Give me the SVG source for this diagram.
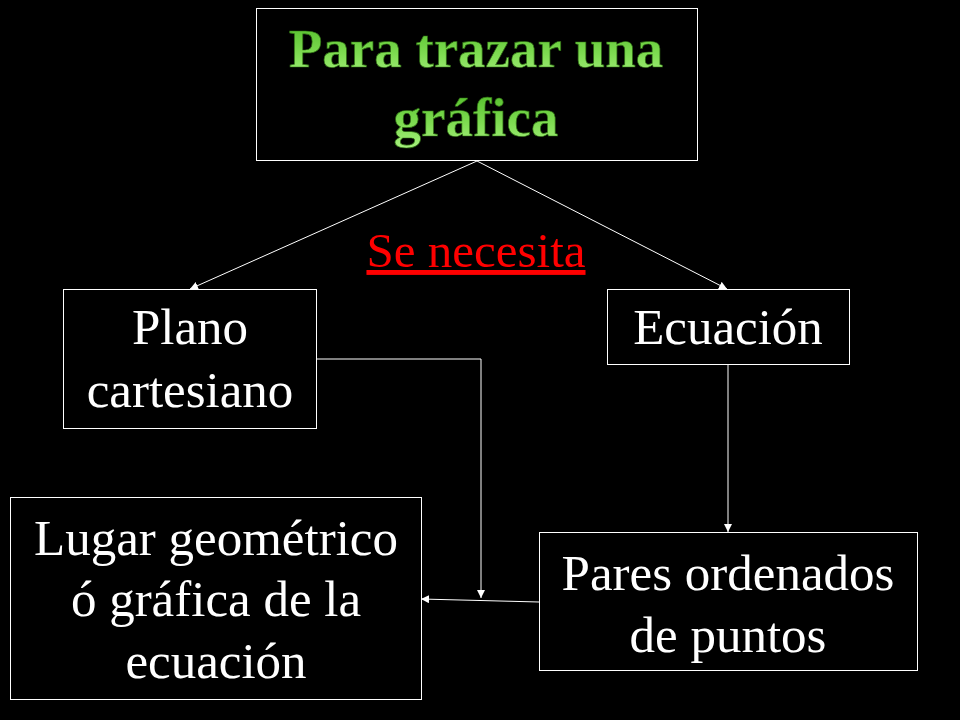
<svg xmlns="http://www.w3.org/2000/svg" width="960" height="720" viewBox="0 0 960 720">
<defs>
<style>
.box{fill:#000;stroke:#fff;stroke-width:1}
.t{font-family:"Liberation Serif","Times New Roman",serif;font-size:51px;fill:#fff;text-anchor:middle}
.title{font-family:"Liberation Serif","Times New Roman",serif;font-weight:bold;font-size:55px;fill:url(#g);stroke:#2f6e14;stroke-width:0.7;text-anchor:middle}
.c{stroke:#fff;stroke-width:1;fill:none}
</style>
<linearGradient id="g" x1="0" y1="0" x2="0" y2="1">
<stop offset="0" stop-color="#4cb824"/>
<stop offset="0.6" stop-color="#7fdc52"/>
<stop offset="1" stop-color="#a6f07e"/>
</linearGradient>
<marker id="a" viewBox="0 0 10 10" refX="10" refY="5" markerWidth="8" markerHeight="8" markerUnits="userSpaceOnUse" orient="auto">
<path d="M0,0L10,5L0,10z" fill="#fff"/>
</marker>
</defs>
<rect width="960" height="720" fill="#000"/>
<g id="connectors">
<line class="c" x1="477" y1="161" x2="190" y2="289" marker-end="url(#a)"/>
<line class="c" x1="477" y1="161" x2="727" y2="289" marker-end="url(#a)"/>
<polyline class="c" points="316,359 481,359 481,598" marker-end="url(#a)"/>
<line class="c" x1="728" y1="364" x2="728" y2="532" marker-end="url(#a)"/>
<line class="c" x1="539" y1="602" x2="421" y2="599" marker-end="url(#a)"/>
</g>
<g id="title">
<rect class="box" x="256.5" y="8.5" width="441" height="152"/>
<text class="title" x="476" y="67">Para trazar una</text>
<text class="title" x="476" y="136">gráfica</text>
</g>
<g id="label">
<text x="476" y="267" font-family="Liberation Serif,serif" font-size="49" fill="#ff0000" text-anchor="middle" text-decoration="underline">Se necesita</text>
</g>
<g id="plano">
<rect class="box" x="63.5" y="289.5" width="253" height="139"/>
<text class="t" x="190" y="344">Plano</text>
<text class="t" x="190" y="407">cartesiano</text>
</g>
<g id="ecuacion">
<rect class="box" x="607.5" y="289.5" width="242" height="75"/>
<text class="t" x="728" y="344">Ecuación</text>
</g>
<g id="lugar">
<rect class="box" x="10.5" y="497.5" width="411" height="202"/>
<text class="t" x="216" y="555">Lugar geométrico</text>
<text class="t" x="216" y="616">ó gráfica de la</text>
<text class="t" x="216" y="678">ecuación</text>
</g>
<g id="pares">
<rect class="box" x="539.5" y="532.5" width="378" height="138"/>
<text class="t" x="728" y="590">Pares ordenados</text>
<text class="t" x="728" y="652">de puntos</text>
</g>
</svg>
